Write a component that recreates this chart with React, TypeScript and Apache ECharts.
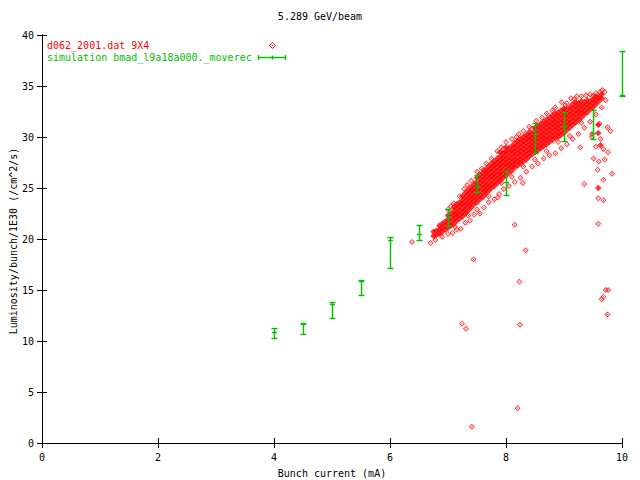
import React, { useEffect, useRef } from "react";
import * as echarts from "echarts";

const TITLE = "5.289 GeV/beam";
const X_NAME = "Bunch current (mA)";
const Y_NAME = "Luminosity/bunch/1E30 (/cm^2/s)";
const DATA_NAME = "d062_2001.dat 9X4";
const SIM_NAME = "simulation bmad_l9a18a000._moverec";

// Measured data: dense core columns [x, ys...]
const coreColumns: [number, number[]][] = [
  [6.75, [20.3, 20.7]],
  [6.8, [20.4, 20.8]],
  [6.85, [20.5, 20.9, 21.3]],
  [6.9, [20.7, 21.1, 21.5]],
  [6.95, [20.9, 21.3, 21.7]],
  [7.0, [21.1, 21.5, 21.9, 22.3]],
  [7.05, [21.3, 21.7, 22.1, 22.5]],
  [7.1, [21.5, 21.9, 22.3, 22.7, 23.1]],
  [7.15, [21.8, 22.2, 22.6, 23.0, 23.4]],
  [7.2, [22.0, 22.4, 22.8, 23.2, 23.6]],
  [7.25, [22.2, 22.6, 23.0, 23.4, 23.8, 24.2]],
  [7.3, [22.5, 22.9, 23.3, 23.7, 24.1, 24.5]],
  [7.35, [22.8, 23.2, 23.6, 24.0, 24.4, 24.8]],
  [7.4, [23.1, 23.5, 23.9, 24.3, 24.7, 25.1]],
  [7.45, [23.4, 23.8, 24.2, 24.6, 25.0, 25.4]],
  [7.5, [23.6, 24.0, 24.4, 24.8, 25.2, 25.6, 26.0]],
  [7.55, [23.9, 24.3, 24.7, 25.1, 25.5, 25.9, 26.3]],
  [7.6, [24.1, 24.5, 24.9, 25.3, 25.7, 26.1, 26.5]],
  [7.65, [24.4, 24.8, 25.2, 25.6, 26.0, 26.4, 26.8]],
  [7.7, [24.7, 25.1, 25.5, 25.9, 26.3, 26.7, 27.1]],
  [7.75, [25.0, 25.4, 25.8, 26.2, 26.6, 27.0, 27.4]],
  [7.8, [25.2, 25.6, 26.0, 26.4, 26.8, 27.2, 27.6]],
  [7.85, [25.5, 25.9, 26.3, 26.7, 27.1, 27.5, 27.9]],
  [7.9, [25.7, 26.1, 26.5, 26.9, 27.3, 27.7, 28.1, 28.5]],
  [7.95, [26.0, 26.4, 26.8, 27.2, 27.6, 28.0, 28.4]],
  [8.0, [26.2, 26.6, 27.0, 27.4, 27.8, 28.2, 28.6, 29.0]],
  [8.05, [26.5, 26.9, 27.3, 27.7, 28.1, 28.5, 28.9]],
  [8.1, [26.7, 27.1, 27.5, 27.9, 28.3, 28.7, 29.1]],
  [8.15, [27.0, 27.4, 27.8, 28.2, 28.6, 29.0, 29.4]],
  [8.2, [27.2, 27.6, 28.0, 28.4, 28.8, 29.2, 29.6]],
  [8.25, [27.4, 27.8, 28.2, 28.6, 29.0, 29.4, 29.8]],
  [8.3, [27.6, 28.0, 28.4, 28.8, 29.2, 29.6, 30.0]],
  [8.35, [27.8, 28.2, 28.6, 29.0, 29.4, 29.8, 30.2]],
  [8.4, [28.1, 28.5, 28.9, 29.3, 29.7, 30.1, 30.5]],
  [8.45, [28.3, 28.7, 29.1, 29.5, 29.9, 30.3]],
  [8.5, [28.5, 28.9, 29.3, 29.7, 30.1, 30.5, 30.9]],
  [8.55, [28.7, 29.1, 29.5, 29.9, 30.3, 30.7, 31.1]],
  [8.6, [28.9, 29.3, 29.7, 30.1, 30.5, 30.9, 31.3]],
  [8.65, [29.1, 29.5, 29.9, 30.3, 30.7, 31.1, 31.5]],
  [8.7, [29.3, 29.7, 30.1, 30.5, 30.9, 31.3, 31.7]],
  [8.75, [29.5, 29.9, 30.3, 30.7, 31.1, 31.5, 31.9]],
  [8.8, [29.7, 30.1, 30.5, 30.9, 31.3, 31.7, 32.1]],
  [8.85, [29.9, 30.3, 30.7, 31.1, 31.5, 31.9, 32.3]],
  [8.9, [30.0, 30.4, 30.8, 31.2, 31.6, 32.0, 32.4]],
  [8.95, [30.2, 30.6, 31.0, 31.4, 31.8, 32.2, 32.6]],
  [9.0, [30.4, 30.8, 31.2, 31.6, 32.0, 32.4, 32.8]],
  [9.05, [30.7, 31.1, 31.5, 31.9, 32.3, 32.7]],
  [9.1, [30.9, 31.3, 31.7, 32.1, 32.5, 32.9]],
  [9.15, [31.2, 31.6, 32.0, 32.4, 32.8, 33.2]],
  [9.2, [31.4, 31.8, 32.2, 32.6, 33.0, 33.4]],
  [9.25, [31.7, 32.1, 32.5, 32.9, 33.3]],
  [9.3, [31.9, 32.3, 32.7, 33.1, 33.5]],
  [9.35, [32.2, 32.6, 33.0, 33.4]],
  [9.4, [32.4, 32.8, 33.2, 33.6]],
  [9.45, [32.7, 33.1, 33.5]],
  [9.5, [32.9, 33.3, 33.7]],
  [9.55, [33.2, 33.6, 34.0]],
  [9.6, [33.5, 33.9]],
  [9.65, [33.8, 34.2]],
];

// Overlapping (solid-looking) isolated measured points
const overlapPoints: [number, number][] = [
  [9.59, 31.2], [9.59, 30.4], [9.63, 29.2], [9.59, 25.0],
];

// Sparse hollow points along the band edges
const edgePoints: [number, number][] = [
  [7.0, 22.9], [7.1, 23.5], [7.2, 24.2], [7.28, 24.9], [7.4, 25.7], [7.5, 26.6],
  [7.58, 26.9], [7.66, 27.4], [7.75, 27.9], [7.85, 28.6], [7.92, 29.0], [8.0, 29.5],
  [8.1, 29.8], [8.22, 30.3], [8.3, 30.6], [8.4, 31.0], [8.52, 31.6], [8.62, 31.9],
  [8.7, 32.3], [8.85, 32.9], [8.96, 33.4], [9.05, 33.3], [9.12, 33.8], [9.22, 34.0],
  [9.3, 34.0], [9.38, 34.1], [9.45, 34.2], [9.55, 34.3], [9.62, 34.4], [9.7, 34.4],
  [7.05, 23.2], [7.33, 25.3], [7.62, 26.8], [7.96, 28.8], [8.18, 30.0], [8.45, 30.8],
  [8.8, 32.6], [9.02, 33.1], [9.18, 33.7], [9.5, 34.0], [9.66, 34.6],
  [6.78, 19.9], [6.9, 20.2], [7.0, 20.5], [7.08, 20.6], [7.15, 20.9], [7.22, 21.0],
  [7.3, 21.6], [7.38, 21.8], [7.45, 22.4], [7.55, 22.5], [7.62, 23.1], [7.7, 23.6],
  [7.8, 23.9], [7.88, 24.4], [7.96, 24.9], [8.05, 25.2], [8.15, 25.6], [8.25, 26.0],
  [8.35, 26.6], [8.45, 27.1], [8.55, 27.4], [8.65, 27.9], [8.75, 28.2], [8.85, 28.4],
  [8.95, 28.9], [9.05, 29.3], [9.15, 29.8], [9.25, 30.3], [9.35, 30.9], [9.45, 31.5],
  [9.55, 32.2], [9.65, 32.9], [9.72, 33.6],
  [7.12, 21.2], [7.35, 22.3], [7.5, 22.9], [7.7, 24.2], [7.92, 25.5], [8.1, 26.1],
  [8.3, 27.1], [8.5, 27.8], [8.7, 28.6], [8.9, 29.5], [9.1, 30.1], [9.3, 31.4],
];

// Outlying measured points
const outlierPoints: [number, number][] = [
  [6.38, 19.7], [6.7, 19.6], [7.44, 18.0], [7.24, 11.7], [7.31, 11.2], [8.24, 11.6],
  [8.2, 3.4], [7.41, 1.6], [8.23, 15.8], [8.15, 21.4], [8.34, 18.9], [8.29, 25.5],
  [7.86, 24.1], [9.35, 25.4], [9.28, 29.0], [9.83, 26.4], [9.61, 31.3],
  [9.63, 29.8], [9.75, 30.95], [9.8, 30.6], [9.55, 29.05],
  [9.68, 28.8], [9.76, 28.5], [9.51, 27.9], [9.6, 27.6], [9.7, 27.8], [9.58, 26.8],
  [9.68, 25.8], [9.59, 24.0], [9.68, 23.8],
  [9.59, 21.5], [9.72, 15.0], [9.76, 15.0], [9.68, 14.35], [9.65, 14.1], [9.75, 12.6],
  [9.48, 30.3], [9.48, 30.0],
];

// Simulation: x, centre, low, high
const simX = [4, 4.5, 5, 5.5, 6, 6.5, 7, 7.5, 8, 8.5, 9, 9.5, 10];
const simC = [10.87, 11.57, 13.6, 15.8, 19.9, 20.49, 22.25, 25.13, 25.56, 30.2, 31.0, 30.36, 34.1];
const simLo = [10.26, 10.66, 12.22, 14.5, 17.13, 19.87, 21.25, 24.58, 24.28, 28.4, 29.6, 29.8, 34.0];
const simHi = [11.24, 11.73, 13.75, 15.98, 20.17, 21.37, 22.9, 26.24, 26.63, 31.34, 32.4, 32.6, 38.4];

const FONT = "DejaVu Sans Mono";
const RED = "#ff0000";
const GREEN = "#00c000";
// hollow diamond with a centre dot (gnuplot style point)
const DIAMOND_DOT =
  "path://M5 0L10 5L5 10L0 5Z M5 2L2 5L5 8L8 5Z M4.2 4.2L5.8 4.2L5.8 5.8L4.2 5.8Z";

export default function App() {
  const ref = useRef<HTMLDivElement>(null);
  useEffect(() => {
    if (!ref.current) return;
    const chart = echarts.init(ref.current, null, { renderer: "svg" });
    const coreData = coreColumns.flatMap(([x, ys]) => ys.map((y) => [x, y]));
    const simData = simX.map((x, i) => [x, simC[i], simLo[i], simHi[i]]);

    const axisCommon = {
      min: 0,
      axisLine: { show: true, lineStyle: { color: "#000", width: 1 } },
      axisTick: { show: true, inside: true, length: 5, lineStyle: { color: "#000" } },
      splitLine: { show: false },
      axisLabel: { fontFamily: FONT, fontSize: 10, color: "#000" },
    };

    const snap = (v: number) => Math.round(v - 0.5) + 0.5;

    chart.setOption({
      animation: false,
      backgroundColor: "#fff",
      grid: { left: 42, top: 35, width: 580, height: 408, containLabel: false },
      xAxis: [
        { ...axisCommon, type: "value", max: 10, interval: 2, position: "bottom",
          axisLabel: { ...axisCommon.axisLabel, margin: 9 } },
        { ...axisCommon, type: "value", max: 10, interval: 2, position: "top",
          axisLabel: { show: false } },
      ],
      yAxis: [
        { ...axisCommon, type: "value", max: 40, interval: 5, position: "left",
          axisLabel: { ...axisCommon.axisLabel, margin: 8 } },
        { ...axisCommon, type: "value", max: 40, interval: 5, position: "right",
          axisLabel: { show: false } },
      ],
      series: [
        {
          type: "scatter",
          name: DATA_NAME,
          data: outlierPoints.concat(edgePoints),
          symbol: DIAMOND_DOT,
          symbolSize: 6,
          itemStyle: { color: RED },
          silent: true,
          z: 2,
        },
        {
          type: "scatter",
          name: DATA_NAME + " core",
          data: coreData.concat(overlapPoints),
          symbol: "diamond",
          symbolSize: 6.5,
          itemStyle: { color: RED },
          silent: true,
          z: 3,
        },
        {
          type: "custom",
          name: SIM_NAME,
          data: simData,
          clip: false,
          z: 4,
          renderItem: (params: any, api: any) => {
            const x = api.value(0);
            const pC = api.coord([x, api.value(1)]);
            const pL = api.coord([x, api.value(2)]);
            const pH = api.coord([x, api.value(3)]);
            const cx = snap(pC[0]);
            const hw = 3;
            const st = { stroke: GREEN, lineWidth: 1.4 };
            return {
              type: "group",
              children: [
                { type: "line", shape: { x1: cx, y1: pH[1], x2: cx, y2: pL[1] }, style: st },
                { type: "line", shape: { x1: cx - hw, y1: snap(pH[1]), x2: cx + hw, y2: snap(pH[1]) }, style: st },
                { type: "line", shape: { x1: cx - hw, y1: snap(pL[1]), x2: cx + hw, y2: snap(pL[1]) }, style: st },
                { type: "line", shape: { x1: cx - 2.5, y1: snap(pC[1]), x2: cx + 2.5, y2: snap(pC[1]) }, style: st },
              ],
            };
          },
        },
      ],
      graphic: [
        { type: "text", left: "center", top: 11, style: { text: TITLE, font: `10px "${FONT}"`, fill: "#000" } },
        { type: "text", x: 332, y: 473, style: { text: X_NAME, font: `10px "${FONT}"`, fill: "#000", align: "center", verticalAlign: "middle" } },
        { type: "text", x: 13, y: 241, rotation: Math.PI / 2, style: { text: Y_NAME, font: `10px "${FONT}"`, fill: "#000", align: "center", verticalAlign: "middle" } },
        { type: "text", x: 47, y: 45, style: { text: DATA_NAME, font: `10px "${FONT}"`, fill: RED, verticalAlign: "middle" } },
        { type: "text", x: 47, y: 57.5, style: { text: SIM_NAME, font: `10px "${FONT}"`, fill: GREEN, verticalAlign: "middle" } },
        { type: "polygon", shape: { points: [[272.5, 42.5], [275.5, 45.5], [272.5, 48.5], [269.5, 45.5]] }, style: { fill: "none", stroke: RED, lineWidth: 1 } },
        { type: "rect", shape: { x: 272, y: 45, width: 1, height: 1 }, style: { fill: RED } },
        { type: "line", shape: { x1: 258, y1: 57.5, x2: 286, y2: 57.5 }, style: { stroke: GREEN, lineWidth: 1.4 } },
        { type: "line", shape: { x1: 258.5, y1: 55, x2: 258.5, y2: 60 }, style: { stroke: GREEN, lineWidth: 1.4 } },
        { type: "line", shape: { x1: 285.5, y1: 55, x2: 285.5, y2: 60 }, style: { stroke: GREEN, lineWidth: 1.4 } },
        { type: "line", shape: { x1: 272.5, y1: 55.5, x2: 272.5, y2: 59.5 }, style: { stroke: GREEN, lineWidth: 1.4 } },
      ],
    });
    return () => chart.dispose();
  }, []);
  return <div ref={ref} style={{ width: 640, height: 480, position: "absolute", left: 0, top: 0 }} />;
}
